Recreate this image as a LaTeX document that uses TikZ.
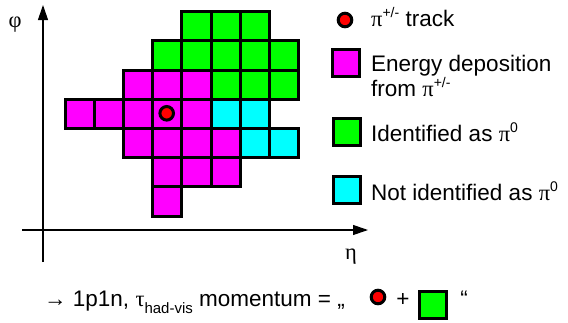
\documentclass[tikz,border=0pt]{standalone}
\usepackage{fontspec}
\setmainfont{Liberation Sans}
\newfontfamily\grk{Liberation Serif}
\usetikzlibrary{arrows.meta}
\definecolor{mag}{RGB}{255,0,255}
\definecolor{grn}{RGB}{0,255,0}
\definecolor{cyn}{RGB}{0,255,255}
\definecolor{rd}{RGB}{255,0,0}
\newcommand\gk[1]{{\grk #1}}
\newcommand\supr[1]{\raisebox{9pt}{\fontsize{14}{14}\selectfont #1}}
\newcommand\subr[1]{\raisebox{-7pt}{\fontsize{15}{15}\selectfont #1}}
\begin{document}
\begin{tikzpicture}[x=1pt,y=-1pt,
  cell/.style={draw=black, line width=3pt},
  lbl/.style={anchor=base west, inner sep=0pt, font=\fontsize{22.5}{26}\selectfont},
  axis/.style={line width=1.1pt, -{Triangle[length=15pt,width=10pt]}},
  dot/.style={circle, draw=black, line width=3pt, fill=rd, minimum size=13.6pt, inner sep=0pt},
  legsq/.style={rectangle, draw=black, line width=3pt, minimum size=27pt, inner sep=0pt},
  axlbl/.style={inner sep=0pt, font=\fontsize{22.5}{26}\selectfont\grk}
]
\useasboundingbox (0,0) rectangle (568,322);
% axes
\coordinate (ybot) at (43,262);
\coordinate (ytop) at (43,5);
\coordinate (xl) at (22,230);
\coordinate (xr) at (368,230);
\draw[axis] (ybot) -- (ytop);
\draw[axis] (xl) -- (xr);
\node[axlbl] (phi) at (15,25) {φ};
\node[axlbl] (eta) at (351,257) {η};
% cells
\foreach \c/\r in {4/0,5/0,6/0,3/1,4/1,5/1,6/1,7/1,5/2,6/2,7/2}
  \draw[cell, fill=grn] ({65+29.2*\c},{11.7+29.2*\r}) rectangle +(29.2,29.2);
\foreach \c/\r in {2/2,3/2,4/2,0/3,1/3,2/3,3/3,4/3,2/4,3/4,4/4,5/4,3/5,4/5,5/5,3/6}
  \draw[cell, fill=mag] ({65+29.2*\c},{11.7+29.2*\r}) rectangle +(29.2,29.2);
\foreach \c/\r in {5/3,6/3,6/4,7/4}
  \draw[cell, fill=cyn] ({65+29.2*\c},{11.7+29.2*\r}) rectangle +(29.2,29.2);
\node[dot] (trk) at (166.7,113.3) {};
% legend
\node[dot] (ldot) at (345,20) {};
\node[lbl] (ltrk) at (371,26) {\gk{π}\supr{+/-} track};
\node[legsq, fill=mag] (lmag) at (346,63) {};
\node[lbl] (lmag1) at (371,71) {Energy deposition};
\node[lbl] (lmag2) at (371,96.7) {from \gk{π}\supr{+/-}};
\node[legsq, fill=grn] (lgrn) at (346.5,131.7) {};
\node[lbl] (lgrnt) at (371,141.7) {Identified as \gk{π}\supr{0}};
\node[legsq, fill=cyn] (lcyn) at (346.5,190) {};
\node[lbl] (lcynt) at (371,200) {Not identified as \gk{π}\supr{0}};
% bottom line
\node[lbl] (bt) at (44,306) {→ 1p1n, \gk{τ}\subr{had-vis} momentum = „};
\node[dot] (bdot) at (378,297) {};
\node[lbl, anchor=base] (bplus) at (403,306) {+};
\node[legsq, fill=grn] (bsq) at (433,305) {};
\node[lbl, anchor=base] (bq) at (464,306) {“};
\end{tikzpicture}
\end{document}
